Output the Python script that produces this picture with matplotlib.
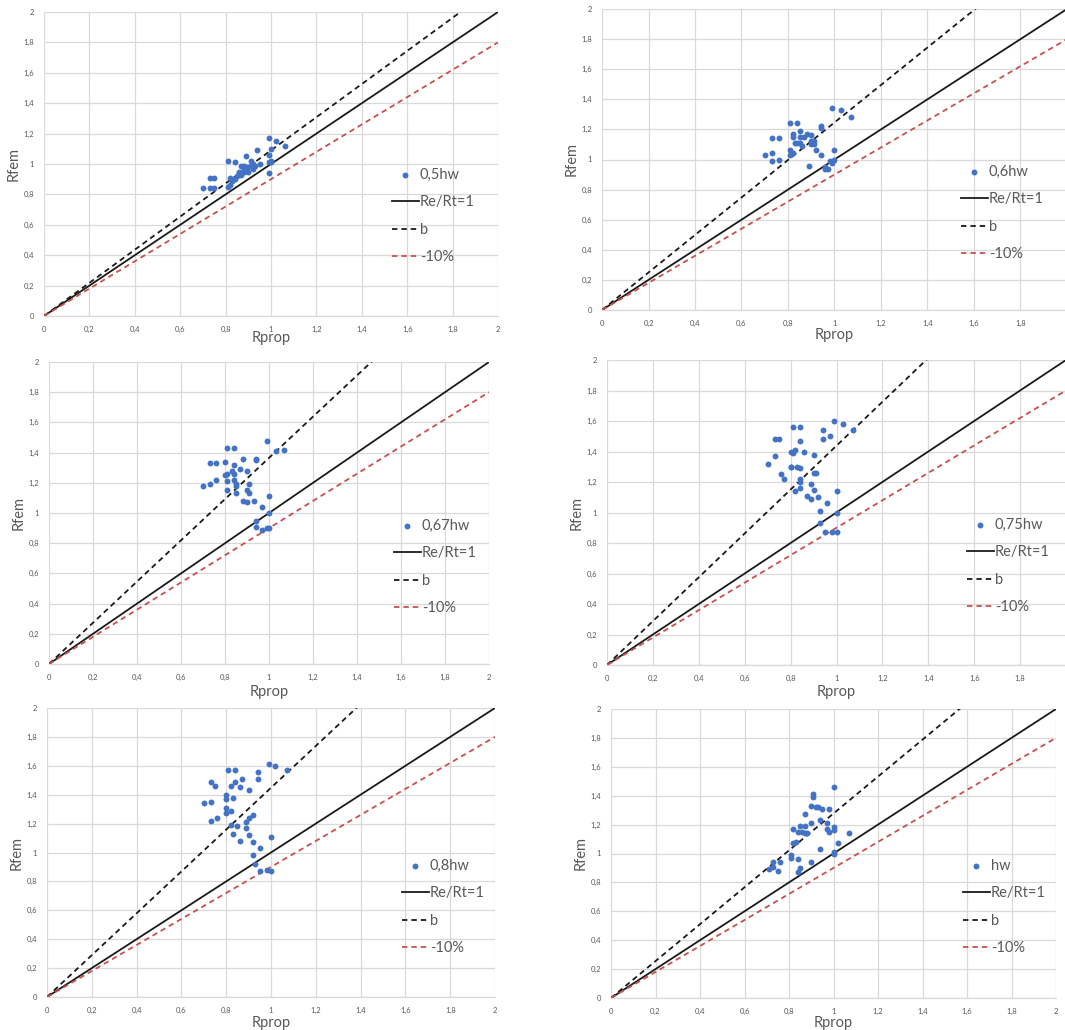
import numpy as np
import matplotlib
matplotlib.use("Agg")
import matplotlib.pyplot as plt

plt.rcParams['font.family'] = ['Lato', 'DejaVu Sans']

W, H = 1065, 1030

# Rprop / Rfem pairs for each web height
rprop_05 = [0.70, 0.73, 0.73, 0.75, 0.75, 0.81, 0.81, 0.82, 0.82, 0.83, 0.84, 0.84, 0.85, 0.86,
            0.86, 0.87, 0.87, 0.88, 0.88, 0.89, 0.89, 0.90, 0.90, 0.91, 0.91, 0.92, 0.93, 0.94,
            0.95, 0.99, 0.99, 0.99, 0.99, 1.00, 1.00, 1.00, 1.02, 1.06, 0.92, 0.88]
rfem_05 = [0.84, 0.84, 0.91, 0.84, 0.91, 1.02, 0.85, 0.86, 0.91, 0.89, 1.01, 0.90, 0.92, 0.94,
           0.95, 0.93, 0.99, 0.97, 0.95, 1.05, 0.97, 0.98, 0.95, 1.02, 0.99, 1.00, 0.99, 1.09,
           1.00, 1.17, 1.01, 1.06, 0.94, 1.10, 1.02, 1.01, 1.15, 1.12, 0.97, 0.99]

rprop_06 = [0.99, 1.03, 1.07, 0.81, 0.84, 0.82, 0.82, 0.85, 0.85, 0.84, 0.85, 0.86, 0.87, 0.88,
            0.90, 0.90, 0.91, 0.91, 0.94, 0.94, 0.73, 0.76, 0.70, 0.73, 0.73, 0.76, 0.81, 0.81,
            0.82, 0.92, 0.94, 0.89, 0.96, 0.96, 0.98, 0.97, 0.99, 1.00, 1.00, 0.83, 0.90]
rfem_06 = [1.34, 1.33, 1.28, 1.24, 1.24, 1.17, 1.15, 1.19, 1.15, 1.11, 1.11, 1.09, 1.15, 1.17,
           1.16, 1.12, 1.10, 1.12, 1.21, 1.22, 1.14, 1.14, 1.03, 1.04, 0.99, 1.00, 1.06, 1.03,
           1.04, 1.06, 1.03, 0.96, 0.94, 0.95, 0.99, 0.94, 0.98, 1.06, 1.00, 1.11, 1.10]

rprop_067 = [0.99, 0.81, 0.84, 1.03, 1.07, 0.88, 0.94, 0.94, 0.73, 0.76, 0.80, 0.84, 0.87, 0.83,
             0.84, 0.80, 0.81, 0.90, 0.84, 0.81, 0.85, 0.85, 0.91, 0.76, 0.73, 0.70, 0.81, 0.90,
             0.85, 0.91, 0.88, 0.90, 0.93, 0.97, 1.00, 0.94, 0.94, 0.97, 0.99, 1.00, 1.00]
rfem_067 = [1.48, 1.43, 1.43, 1.41, 1.42, 1.36, 1.36, 1.35, 1.33, 1.33, 1.34, 1.32, 1.29, 1.28,
            1.26, 1.25, 1.26, 1.28, 1.22, 1.21, 1.19, 1.18, 1.19, 1.22, 1.19, 1.18, 1.15, 1.15,
            1.13, 1.13, 1.08, 1.07, 1.08, 1.04, 1.11, 0.95, 0.91, 0.89, 0.90, 0.90, 1.00]

rprop_075 = [0.99, 1.03, 1.07, 0.81, 0.84, 0.94, 0.94, 0.97, 0.73, 0.75, 0.84, 0.80, 0.81, 0.82,
             0.86, 0.90, 0.73, 0.70, 0.80, 0.80, 0.83, 0.84, 0.90, 0.91, 0.76, 0.77, 0.84, 0.84,
             0.89, 0.84, 0.90, 0.82, 0.87, 0.92, 0.89, 0.96, 1.00, 0.93, 0.93, 0.95, 0.98, 1.00, 1.00]
rfem_075 = [1.60, 1.58, 1.54, 1.56, 1.56, 1.54, 1.48, 1.50, 1.48, 1.48, 1.47, 1.40, 1.39, 1.41,
            1.40, 1.38, 1.37, 1.32, 1.30, 1.30, 1.30, 1.29, 1.26, 1.26, 1.25, 1.22, 1.22, 1.20,
            1.19, 1.16, 1.15, 1.14, 1.11, 1.10, 1.09, 1.06, 1.14, 1.01, 0.93, 0.87, 0.87, 0.87, 1.00]

rprop_08 = [0.99, 1.02, 1.07, 0.81, 0.84, 0.94, 0.94, 0.87, 0.73, 0.75, 0.84, 0.82, 0.86, 0.90,
            0.80, 0.83, 0.70, 0.73, 0.80, 0.80, 0.80, 0.82, 0.76, 0.73, 0.90, 0.92, 0.89, 0.89,
            0.82, 0.85, 0.83, 0.90, 0.86, 0.92, 0.95, 1.00, 0.92, 0.93, 0.95, 0.98, 1.00]
rfem_08 = [1.61, 1.60, 1.57, 1.57, 1.57, 1.56, 1.51, 1.51, 1.49, 1.46, 1.49, 1.46, 1.45, 1.43,
           1.40, 1.38, 1.34, 1.35, 1.37, 1.31, 1.27, 1.29, 1.24, 1.22, 1.24, 1.26, 1.21, 1.17,
           1.19, 1.18, 1.13, 1.12, 1.08, 1.07, 1.03, 1.11, 0.98, 0.92, 0.87, 0.88, 0.87]

rprop_1 = [1.00, 0.91, 0.91, 0.90, 0.92, 0.93, 0.95, 0.98, 0.87, 0.90, 0.94, 0.97, 0.97, 0.98,
           1.00, 1.00, 0.82, 0.85, 0.87, 0.84, 0.86, 0.87, 0.88, 0.82, 0.83, 0.94, 1.02, 1.07,
           0.81, 0.81, 0.84, 0.90, 1.00, 1.00, 0.73, 0.76, 0.73, 0.71, 0.75, 0.85, 0.84]
rfem_1 = [1.46, 1.41, 1.39, 1.33, 1.32, 1.32, 1.31, 1.31, 1.27, 1.21, 1.23, 1.21, 1.17, 1.15,
          1.16, 1.18, 1.17, 1.19, 1.19, 1.15, 1.15, 1.14, 1.14, 1.07, 1.08, 1.03, 1.07, 1.14,
          0.99, 0.97, 0.96, 0.94, 1.01, 1.00, 0.94, 0.94, 0.91, 0.89, 0.88, 0.90, 0.87]

series_names = ['0,5hw', '0,6hw', '0,67hw', '0,75hw', '0,8hw', 'hw']
rprop_all = [rprop_05, rprop_06, rprop_067, rprop_075, rprop_08, rprop_1]
rfem_all = [rfem_05, rfem_06, rfem_067, rfem_075, rfem_08, rfem_1]
# slope of the "b" line for each case
b_slopes = [1.09, 1.246, 1.365, 1.438, 1.448, 1.277]

ticks = [0, 0.2, 0.4, 0.6, 0.8, 1.0, 1.2, 1.4, 1.6, 1.8, 2.0]
tick_labels = ['0', '0,2', '0,4', '0,6', '0,8', '1', '1,2', '1,4', '1,6', '1,8', '2']

# plot areas in pixels: x at 0, x at 2, y at 2 (top), y at 0 (bottom)
areas = [(44, 498, 12, 316), (602, 1067, 9, 310),
         (49, 489, 362, 664), (607, 1066, 360, 665),
         (47, 495, 708, 997), (611, 1056, 709, 998)]
# legend handle left edge and first row centre, pixels
leg_pos = [(392, 176), (961, 173), (394, 527), (967, 526), (402, 867), (963, 867)]
# distance of Rprop label below the plot area
xlab_off = [22, 25, 28, 27, 26, 25]
# right-hand charts run past the edge, their last x label is not shown
show_last_x = [True, False, True, False, True, True]

grey = '#595959'
grid_c = '#d9d9d9'
blue = '#4472c4'
red = '#c9504c'

fig = plt.figure(figsize=(W / 100, H / 100), dpi=100)

for i in range(6):
    x0, x2, yt, yb = areas[i]
    w, h = x2 - x0, yb - yt
    ax = fig.add_axes([x0 / W, 1 - yb / H, w / W, h / H])

    ax.scatter(rprop_all[i], rfem_all[i], s=18, color=blue, zorder=4,
               label=series_names[i], linewidths=0)
    xs = np.array([0, 2.0])
    ax.plot(xs, xs, color='#1a1a1a', lw=1.3, label='Re/Rt=1', zorder=3)
    ax.plot(xs, b_slopes[i] * xs, color='#1a1a1a', lw=1.3, ls=(0, (3, 2.2)),
            label='b', zorder=3)
    ax.plot(xs, 0.9 * xs, color=red, lw=1.3, ls=(0, (3, 2.2)), label='-10%', zorder=3)

    ax.set_xlim(0, 2)
    ax.set_ylim(0, 2)
    ax.set_xticks(ticks)
    ax.set_yticks(ticks)
    xl = list(tick_labels)
    if not show_last_x[i]:
        xl[-1] = ''
    ax.set_xticklabels(xl)
    ax.set_yticklabels(tick_labels)
    ax.tick_params(length=0, labelsize=5.5, labelcolor=grey, pad=7)
    ax.grid(True, color=grid_c, lw=0.9)
    ax.set_axisbelow(True)
    for s in ['top', 'right', 'left']:
        ax.spines[s].set_visible(False)
    ax.spines['bottom'].set_color(grid_c)
    ax.spines['bottom'].set_linewidth(0.9)

    ax.set_xlabel('Rprop', fontsize=10.5, color=grey)
    ax.set_ylabel('Rfem', fontsize=10.5, color=grey)
    ax.xaxis.set_label_coords(0.5, -xlab_off[i] / h)
    ax.xaxis.label.set_va('center')
    ax.yaxis.set_label_coords(-30 / w, 0.5)
    ax.yaxis.label.set_va('center')

    lx, ly = leg_pos[i]
    ax.legend(loc='upper left', bbox_to_anchor=(lx / W, 1 - (ly - 8) / H),
              bbox_transform=fig.transFigure, frameon=False, fontsize=10.5,
              labelcolor=grey, handlelength=1.85, handletextpad=0.05,
              labelspacing=0.92, borderpad=0, borderaxespad=0, scatterpoints=1)

fig.savefig('out.png', dpi=100)
